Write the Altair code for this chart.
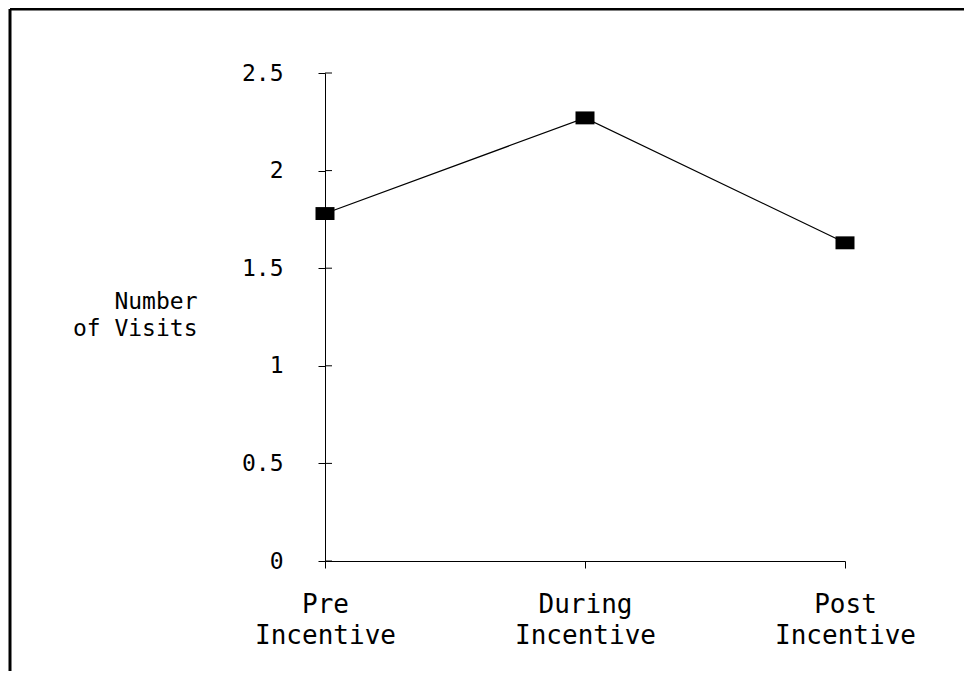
import altair as alt
import pandas as pd

periods = ["Pre Incentive", "During Incentive", "Post Incentive"]
visits = [1.78, 2.27, 1.63]
y_ticks = [0, 0.5, 1, 1.5, 2, 2.5]
y_title = ["Number", "of Visits"]

df = pd.DataFrame({"period": periods, "visits": visits})
tick_df = pd.DataFrame({"visits": y_ticks})

FONT = "DejaVu Sans Mono"

x_enc = alt.X(
    "period:N",
    sort=periods,
    scale=alt.Scale(type="point", padding=0),
    axis=alt.Axis(
        title=None, labelAngle=0, labelExpr="split(datum.label, ' ')",
        labelFont=FONT, labelFontSize=26, labelColor="black", labelLineHeight=31,
        labelBaseline="top", labelPadding=23, labelAlign="center",
        tickSize=7, tickColor="black", tickWidth=1,
        domainColor="black", domainWidth=1, grid=False,
    ),
)

y_scale = alt.Scale(domain=[0, 2.5], nice=False, zero=True)
y_axis = alt.Axis(
    values=y_ticks, format="~g", title=y_title, titleAngle=0,
    titleAlign="right", titleBaseline="alphabetic", titleX=-128, titleY=235,
    titleFont=FONT, titleFontSize=23, titleFontWeight="normal",
    titleLineHeight=27, titleColor="black",
    labelFont=FONT, labelFontSize=23, labelColor="black", labelPadding=35,
    tickSize=7, tickColor="black", tickWidth=1,
    domainColor="black", domainWidth=1, grid=False,
)

frame_top = alt.Chart(alt.Data(values=[{}])).mark_rule(
    color="black", strokeWidth=3
).encode(x=alt.value(-315), x2=alt.value(700), y=alt.value(-64))

frame_left = alt.Chart(alt.Data(values=[{}])).mark_rule(
    color="black", strokeWidth=3
).encode(x=alt.value(-315), y=alt.value(-64), y2=alt.value(700))

inner_ticks = alt.Chart(tick_df).mark_rule(color="black", strokeWidth=1).encode(
    y=alt.Y("visits:Q", scale=y_scale, axis=y_axis),
    x=alt.value(0), x2=alt.value(7),
)

line = alt.Chart(df).mark_line(color="black", strokeWidth=1.2).encode(
    x=x_enc, y=alt.Y("visits:Q", scale=y_scale, axis=y_axis)
)

points = alt.Chart(df).mark_point(
    shape="M-1,-0.68L1,-0.68L1,0.68L-1,0.68Z",
    filled=True, color="black", size=361, opacity=1,
).encode(x=x_enc, y=alt.Y("visits:Q", scale=y_scale, axis=y_axis))

chart = alt.layer(line, points, inner_ticks, frame_top, frame_left).properties(
    width=520, height=488,
    autosize=alt.AutoSizeParams(type="none"),
    padding={"left": 317, "top": 65, "right": 119, "bottom": 110},
    background="white",
).configure_view(strokeWidth=0)

chart.save("out.html", embed_options={"renderer": "svg", "actions": False})
